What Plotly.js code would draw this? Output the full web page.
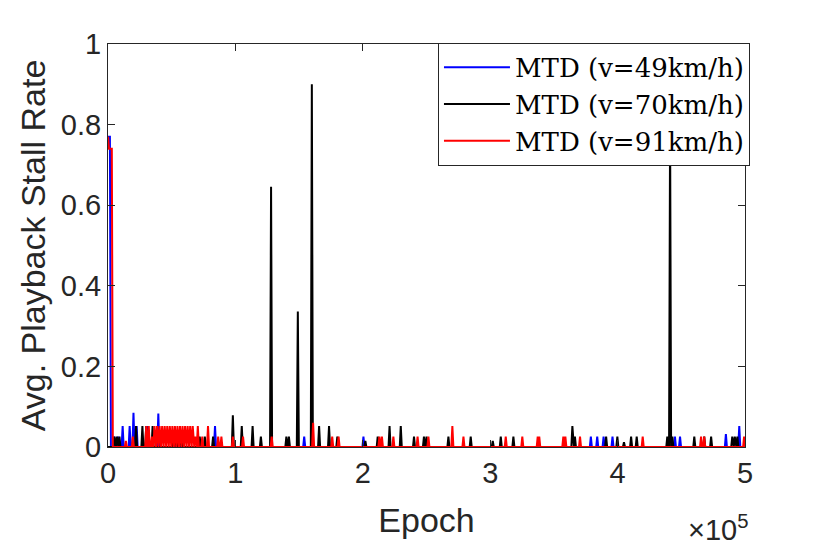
<!DOCTYPE html>
<html>
<head>
<meta charset="utf-8">
<script src="https://cdn.plot.ly/plotly-3.0.1.min.js"></script>
<style>html,body{margin:0;padding:0;background:#fff;}</style>
</head>
<body>
<div id="chart" style="width:830px;height:549px;"></div>
<script>
// Legend names
const seriesNames = ["MTD (v=49km/h)", "MTD (v=70km/h)", "MTD (v=91km/h)"];
const seriesColors = ["#0000ff", "#000000", "#ff0000"];

// Initial (start-of-training) samples: epoch, stall rate
const blueStartX = [0, 1500];
const blueStartY = [0.77, 0.77];
const blackStartX = [0];
const blackStartY = [0];
const redStartX = [0, 800, 3000];
const redStartY = [0.77, 0.74, 0.74];

// Isolated stall events: epoch and stall rate
const blueSpikeX = [5000, 8000, 11500, 17000, 20000, 22500, 31000, 39500, 84000, 154000, 200500,
  379000, 384000, 389000, 396000, 445000, 449000, 485000, 495500];
const blueSpikeY = [0.026, 0.026, 0.052, 0.052, 0.085, 0.052, 0.052, 0.083, 0.052, 0.026, 0.026,
  0.026, 0.026, 0.026, 0.026, 0.026, 0.026, 0.032, 0.052];

const blackSpikeX = [5000, 7000, 9000, 22000, 27000, 30000, 35000, 51000, 53000, 55000, 57000, 59000,
  72000, 76000, 82500, 98000, 105000, 113500, 120000, 128000, 140000, 142000, 149000, 160000,
  165700, 173500, 180000, 202000, 211700, 221000, 229800, 240200, 248000, 250000, 267200, 284700,
  302000, 308300, 318200, 364500, 366500, 391000, 399800, 405000, 410600, 415000, 439000, 441200,
  443000, 460200, 468000, 473400, 490000, 492000, 494000];
const blackSpikeY = [0.026, 0.026, 0.026, 0.052, 0.052, 0.052, 0.052, 0.026, 0.026, 0.026, 0.026, 0.026,
  0.026, 0.026, 0.026, 0.079, 0.052, 0.052, 0.026, 0.646, 0.026, 0.026, 0.336, 0.90,
  0.052, 0.052, 0.026, 0.015, 0.026, 0.052, 0.052, 0.026, 0.026, 0.026, 0.026, 0.026,
  0.015, 0.026, 0.026, 0.052, 0.026, 0.026, 0.026, 0.012, 0.026, 0.026, 0.026, 0.80,
  0.026, 0.026, 0.026, 0.026, 0.026, 0.026, 0.026];

const redSpikeX = [14000, 19500, 30000, 32000, 34500, 36500, 38500, 40500, 42500, 44500, 46500, 48500,
  50500, 52500, 54500, 56500, 58500, 60500, 62500, 64500, 66500, 68500, 70500, 74000, 78500,
  86500, 89000, 98000, 106000, 128500, 161000, 176000, 181000, 213000, 215000, 224000, 243000,
  251500, 270300, 279000, 312200, 325200, 337300, 338500, 357400, 359000, 370500, 419700,
  465500, 468000, 499300];
const redSpikeY = [0.015, 0.026, 0.052, 0.052, 0.026, 0.052, 0.052, 0.052, 0.052, 0.052, 0.052, 0.052,
  0.052, 0.052, 0.052, 0.052, 0.052, 0.052, 0.052, 0.052, 0.052, 0.026, 0.052, 0.026, 0.052,
  0.026, 0.026, 0.026, 0.026, 0.026, 0.06, 0.026, 0.026, 0.026, 0.026, 0.026, 0.026,
  0.026, 0.052, 0.026, 0.026, 0.026, 0.026, 0.026, 0.026, 0.026, 0.026, 0.026,
  0.026, 0.026, 0.026];

const xTickVals = [0, 100000, 200000, 300000, 400000, 500000];
const xTickText = ["0", "1", "2", "3", "4", "5"];
const epochEnd = 500000;

// Build per-epoch series: start samples, then zero stall rate except at the stall events
function buildSeries(sx, sy, px, py) {
  const half = 800;
  const x = sx.slice(), y = sy.slice();
  x.push(sx[sx.length - 1] + half); y.push(0);
  for (let i = 0; i < px.length; i++) {
    x.push(px[i] - half, px[i], px[i] + half);
    y.push(0, py[i], 0);
  }
  x.push(epochEnd); y.push(0);
  return {x, y};
}

const blue = buildSeries(blueStartX, blueStartY, blueSpikeX, blueSpikeY);
const black = buildSeries(blackStartX, blackStartY, blackSpikeX, blackSpikeY);
const red = buildSeries(redStartX, redStartY, redSpikeX, redSpikeY);

const traces = [blue, black, red].map((s, i) => ({
  x: s.x, y: s.y, type: 'scatter', mode: 'lines', name: seriesNames[i],
  line: {color: seriesColors[i], width: 2}
}));

const axisColor = '#262626';
const tickFont = {family: 'Liberation Sans, Arial, sans-serif', size: 29, color: axisColor};
const titleFont = {family: 'Liberation Sans, Arial, sans-serif', size: 34, color: axisColor};

const layout = {
  width: 830, height: 549,
  margin: {l: 108, r: 85, t: 44, b: 102},
  paper_bgcolor: '#ffffff', plot_bgcolor: '#ffffff',
  showlegend: true,
  legend: {
    x: 0.518, xanchor: 'left', y: 1.003, yanchor: 'top',
    bgcolor: '#ffffff', bordercolor: axisColor, borderwidth: 1,
    font: {family: 'DejaVu Serif, Liberation Serif, serif', size: 26, color: '#000'},
    itemwidth: 66, tracegroupgap: 0
  },
  xaxis: {
    range: [0, epochEnd], tickvals: xTickVals, ticktext: xTickText,
    ticks: 'inside', ticklen: 7, tickcolor: axisColor, tickwidth: 1,
    showline: true, mirror: 'ticks', linecolor: axisColor, linewidth: 1,
    showgrid: false, zeroline: false, tickfont: tickFont,
    title: {text: 'Epoch', font: titleFont, standoff: 20}
  },
  yaxis: {
    range: [0, 1], dtick: 0.2, tick0: 0,
    ticks: 'inside', ticklen: 7, tickcolor: axisColor, tickwidth: 1,
    showline: true, mirror: 'ticks', linecolor: axisColor, linewidth: 1,
    showgrid: false, zeroline: false, tickfont: tickFont,
    title: {text: 'Avg. Playback Stall Rate', font: titleFont, standoff: 4}
  },
  annotations: [{
    text: '×10<sup>5</sup>', xref: 'paper', yref: 'paper',
    x: 1.008, xanchor: 'right', y: -0.2, yanchor: 'middle',
    showarrow: false, font: tickFont
  }]
};

Plotly.newPlot('chart', traces, layout, {displayModeBar: false, staticPlot: true});
</script>
</body>
</html>
